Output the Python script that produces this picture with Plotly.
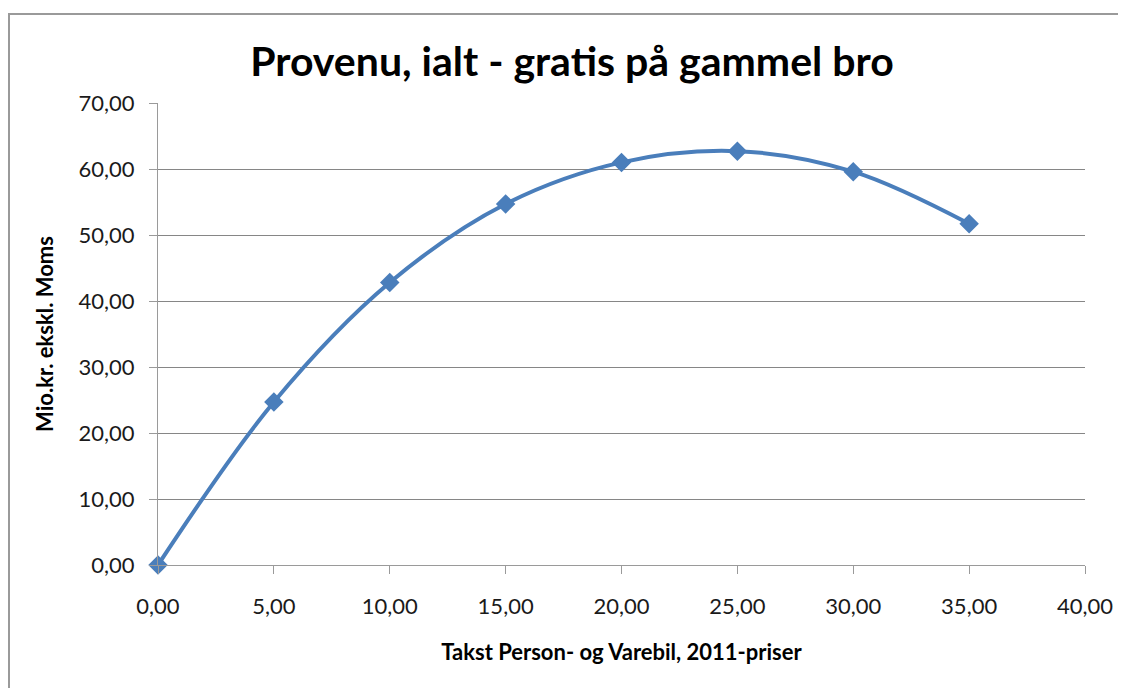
import plotly.graph_objects as go

takst = [0, 5, 10, 15, 20, 25, 30, 35]
provenu = [0.0, 24.7, 42.8, 54.7, 61.0, 62.7, 59.6, 51.7]

title_text = "Provenu, ialt - gratis på gammel bro"
x_title = "Takst Person- og Varebil, 2011-priser"
y_title = "Mio.kr. ekskl. Moms"

FONT = "Lato"
OFF = 8  # page body margin
W, H = 1126 - OFF, 688 - OFF
L, T = 158 - OFF, 103 - OFF
PW, PH = 927, 462
R = W - L - PW
B = H - T - PH

fig = go.Figure()
fig.add_trace(go.Scatter(
    x=takst, y=provenu, mode="lines+markers",
    line=dict(color="#4A7EBB", width=4, shape="spline", smoothing=1.0),
    marker=dict(symbol="diamond", size=15, color="#4A7EBB"),
    cliponaxis=False, showlegend=False,
))

fig.update_layout(
    width=W, height=H, autosize=False,
    paper_bgcolor="white", plot_bgcolor="white",
    margin=dict(l=L, r=R, t=T, b=B),
    separators=", ",
    font=dict(family=FONT, color="#000000"),
    title=dict(text="<b>" + title_text + "</b>", x=(572 - OFF) / W, xanchor="center",
               y=1 - (62 - OFF) / H, yanchor="middle",
               font=dict(family=FONT, size=41, color="#000000")),
    xaxis=dict(range=[0, 40], dtick=5, tick0=0, tickformat=".2f",
               showgrid=False, zeroline=False, showline=True,
               linecolor="#9A9A9A", linewidth=1,
               ticks="outside", ticklen=8, tickcolor="#9A9A9A",
               ticklabelstandoff=14,
               tickfont=dict(family=FONT, size=22, color="#1a1a1a"),
               title=dict(text="<b>" + x_title + "</b>", standoff=26,
                          font=dict(family=FONT, size=22))),
    yaxis=dict(range=[0, 70], dtick=10, tick0=0, tickformat=".2f",
               showgrid=True, gridcolor="#868686", gridwidth=1,
               zeroline=False, showline=True,
               linecolor="#9A9A9A", linewidth=1,
               ticks="outside", ticklen=8, tickcolor="#9A9A9A",
               ticklabelstandoff=10,
               tickfont=dict(family=FONT, size=22, color="#1a1a1a"),
               title=dict(text="<b>" + y_title + "</b>", standoff=18,
                          font=dict(family=FONT, size=22))),
    shapes=[dict(type="rect", xref="paper", yref="paper",
                 x0=(1 - L) / PW, x1=1.2, y0=-0.5, y1=(PH + T - 6) / PH,
                 line=dict(color="#9A9A9A", width=2), fillcolor="rgba(0,0,0,0)",
                 layer="below")],
)

fig.write_html("out.html")
